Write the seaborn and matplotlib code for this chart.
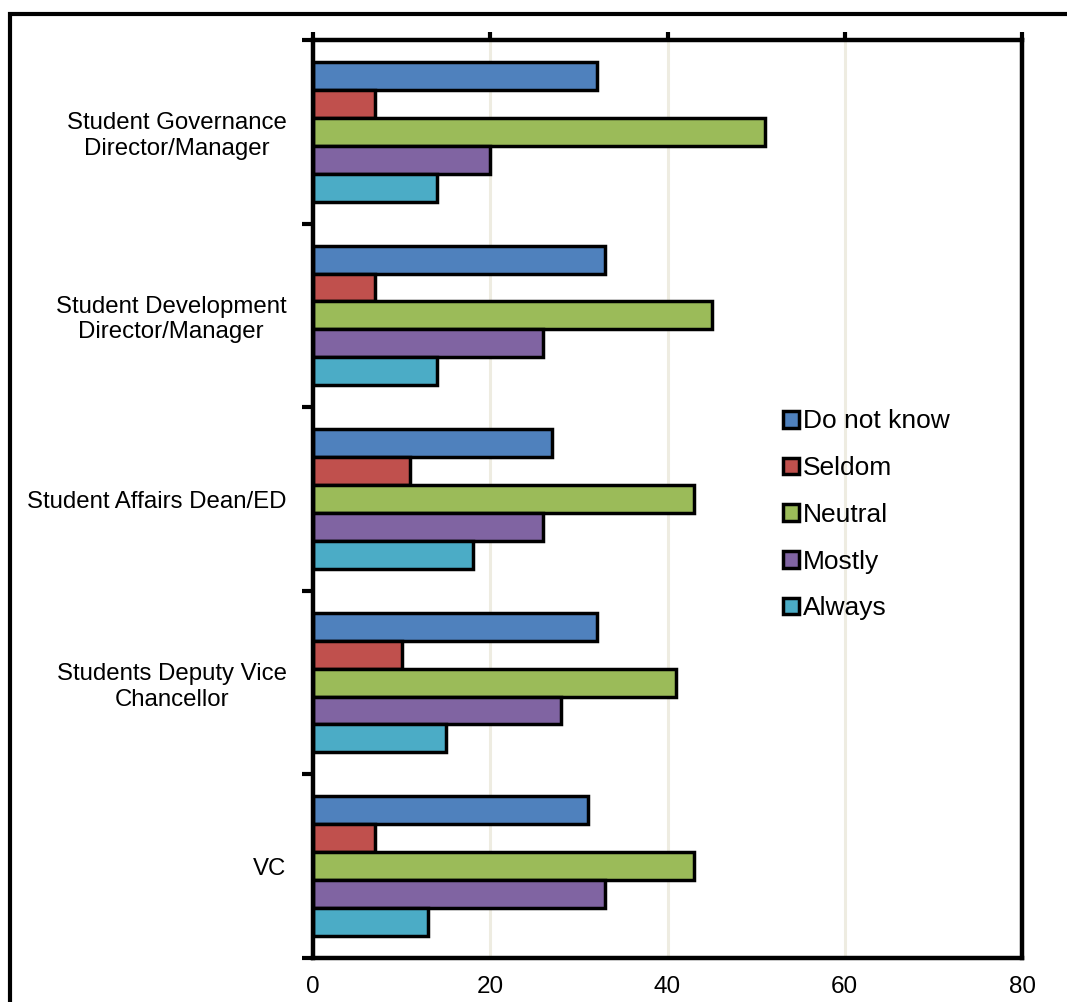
import numpy as np
import pandas as pd
import matplotlib
matplotlib.use("Agg")
import matplotlib.pyplot as plt
from matplotlib.patches import Rectangle
from matplotlib.ticker import FixedLocator
import seaborn as sns

# Roles, top to bottom
roles = [
    "Student Governance\nDirector/Manager",
    "Student Development\nDirector/Manager",
    "Student Affairs Dean/ED",
    "Students Deputy Vice\nChancellor",
    "VC",
]
responses = ["Do not know", "Seldom", "Neutral", "Mostly", "Always"]

# values per response, in the order of roles
do_not_know = [32, 33, 27, 32, 31]
seldom = [7, 7, 11, 10, 7]
neutral = [51, 45, 43, 41, 43]
mostly = [20, 26, 26, 28, 33]
always = [14, 14, 18, 15, 13]

x_ticks = [0, 20, 40, 60, 80]
colors = ["#4F81BD", "#C0504D", "#9BBB59", "#8064A2", "#4BACC6"]

series = [do_not_know, seldom, neutral, mostly, always]
rows = []
for resp, vals in zip(responses, series):
    for role, v in zip(roles, vals):
        rows.append({"role": role, "response": resp, "value": v})
df = pd.DataFrame(rows)

sns.set_style("white")
plt.rcParams["font.family"] = ["Liberation Sans", "DejaVu Sans"]
plt.rcParams["text.color"] = "black"
plt.rcParams["xtick.color"] = "black"
plt.rcParams["ytick.color"] = "black"

fig = plt.figure(figsize=(10.67, 10.02), dpi=100)
ax = fig.add_axes([313 / 1067, 1 - 958 / 1002, 709 / 1067, 918 / 1002])

sns.barplot(
    data=df, y="role", x="value", hue="response",
    order=roles, hue_order=responses, palette=colors,
    orient="h", width=0.76, saturation=1,
    edgecolor="black", linewidth=2.5, ax=ax,
)

ax.set_xlim(0, 80)
ax.set_ylim(len(roles) - 0.5, -0.5)
ax.set_xlabel("")
ax.set_ylabel("")

# gridlines
ax.set_axisbelow(True)
for xv in x_ticks[1:-1]:
    ax.axvline(xv, color="#EEECE1", linewidth=2.2, zorder=0)

# spines
for s in ax.spines.values():
    s.set_visible(True)
    s.set_color("black")
    s.set_linewidth(3.2)

# x axis: tick marks on top, labels at bottom
ax.set_xticks(x_ticks)
ax.set_xticklabels([str(t) for t in x_ticks], fontsize=17.5)
ax.tick_params(axis="x", which="major", top=True, bottom=False,
               labeltop=False, labelbottom=True, direction="out",
               length=6, width=3, color="black", pad=7)

# y axis: labels at category centres, tick marks at boundaries
ax.tick_params(axis="y", which="major", left=True, length=0, pad=19,
               labelsize=17.3)
for lbl in ax.get_yticklabels():
    lbl.set_multialignment("center")
ax.yaxis.set_minor_locator(FixedLocator(np.arange(-0.5, len(roles), 1.0)))
ax.tick_params(axis="y", which="minor", left=True, direction="out",
               length=8, width=3, color="black")

ax.legend(
    loc="upper left", bbox_to_anchor=(0.648, 0.609), frameon=False,
    fontsize=19, handlelength=0.6, handleheight=0.6, handletextpad=0.15,
    labelspacing=0.86, borderaxespad=0,
)

# outer chart frame (left and top edges visible)
fig.patches.append(Rectangle((10 / 1067, -0.05), 1.1, 0.05 + 1 - 14 / 1002,
                             transform=fig.transFigure, fill=False,
                             edgecolor="black", linewidth=3))

fig.savefig("out.png", dpi=100)
